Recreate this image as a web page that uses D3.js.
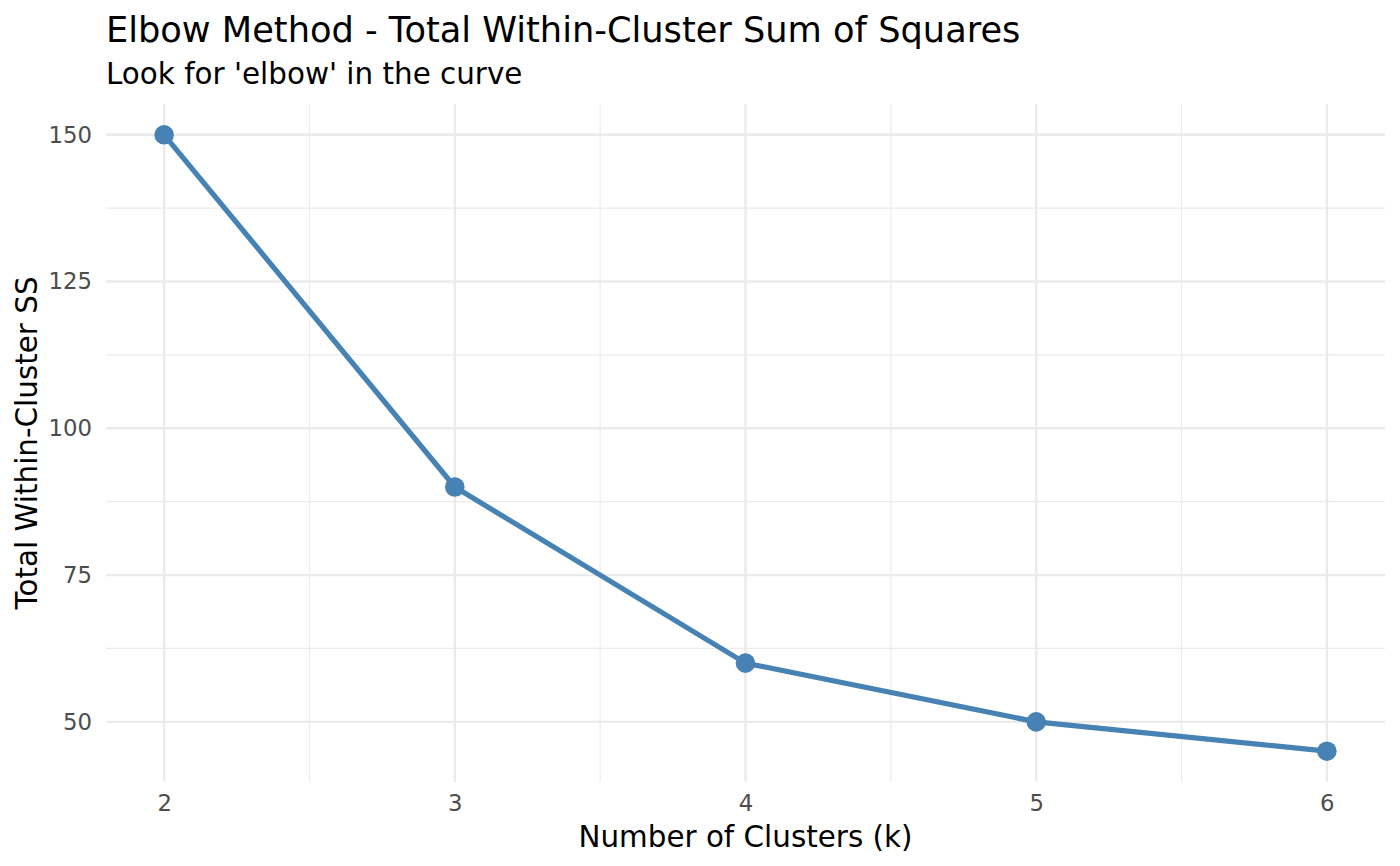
<!DOCTYPE html>
<html>
<head>
<meta charset="utf-8">
<script src="https://cdn.jsdelivr.net/npm/d3@7"></script>
<style>
  body { margin: 0; background: #fff; }
  svg { display: block; font-family: "DejaVu Sans", sans-serif; }
</style>
</head>
<body>
<svg id="chart" width="1400" height="866"></svg>
<script>
// data
var clusters = [2, 3, 4, 5, 6];
var wss = [150, 90, 60, 50, 45];
var xTicks = [2, 3, 4, 5, 6];
var xMinor = [2.5, 3.5, 4.5, 5.5];
var yTicks = [50, 75, 100, 125, 150];
var yMinor = [62.5, 87.5, 112.5, 137.5];

var svg = d3.select("#chart");
var margin = {left: 106, right: 15, top: 104, bottom: 84};
var width = 1400 - margin.left - margin.right,
    height = 866 - margin.top - margin.bottom;

// ggplot style 5% expansion
var xPad = (6 - 2) * 0.05, yPad = (150 - 45) * 0.05;
var x = d3.scaleLinear().domain([2 - xPad, 6 + xPad]).range([0, width]);
var y = d3.scaleLinear().domain([45 - yPad, 150 + yPad]).range([height, 0]);

var g = svg.append("g").attr("transform", "translate(" + margin.left + "," + margin.top + ")");

// minor grid
g.selectAll(".xminor").data(xMinor).enter().append("line")
  .attr("x1", d => x(d)).attr("x2", d => x(d)).attr("y1", 0).attr("y2", height)
  .attr("stroke", "#ebebeb").attr("stroke-width", 1.2);
g.selectAll(".yminor").data(yMinor).enter().append("line")
  .attr("y1", d => y(d)).attr("y2", d => y(d)).attr("x1", 0).attr("x2", width)
  .attr("stroke", "#ebebeb").attr("stroke-width", 1.2);

// major grid
g.selectAll(".xmajor").data(xTicks).enter().append("line")
  .attr("x1", d => x(d)).attr("x2", d => x(d)).attr("y1", 0).attr("y2", height)
  .attr("stroke", "#ebebeb").attr("stroke-width", 2.4);
g.selectAll(".ymajor").data(yTicks).enter().append("line")
  .attr("y1", d => y(d)).attr("y2", d => y(d)).attr("x1", 0).attr("x2", width)
  .attr("stroke", "#ebebeb").attr("stroke-width", 2.4);

// axes, just labels
var xAxis = g.append("g").attr("transform", "translate(0," + height + ")")
  .call(d3.axisBottom(x).tickValues(xTicks).tickSize(0).tickPadding(13).tickFormat(d3.format("d")));
var yAxis = g.append("g")
  .call(d3.axisLeft(y).tickValues(yTicks).tickSize(0).tickPadding(14).tickFormat(d3.format("d")));
[xAxis, yAxis].forEach(function(a) {
  a.select(".domain").remove();
  a.selectAll("text").attr("fill", "#4d4d4d").style("font-size", "22.8px")
    .style("font-family", "DejaVu Sans, sans-serif");
});

// line and points
var line = d3.line().x((d, i) => x(clusters[i])).y(d => y(d));
g.append("path").datum(wss)
  .attr("d", line).attr("fill", "none")
  .attr("stroke", "#4682b4").attr("stroke-width", 5.2).attr("stroke-linejoin", "round");
g.selectAll(".pt").data(wss).enter().append("circle")
  .attr("cx", (d, i) => x(clusters[i])).attr("cy", d => y(d)).attr("r", 9.8)
  .attr("fill", "#4682b4");

// titles
svg.append("text").attr("x", 106).attr("y", 42)
  .style("font-size", "35.2px").attr("fill", "#000")
  .text("Elbow Method - Total Within-Cluster Sum of Squares");
svg.append("text").attr("x", 106).attr("y", 84)
  .style("font-size", "29.4px").attr("fill", "#000")
  .text("Look for 'elbow' in the curve");
svg.append("text").attr("x", margin.left + width / 2).attr("y", 847)
  .attr("text-anchor", "middle").style("font-size", "29.4px").attr("fill", "#000")
  .text("Number of Clusters (k)");
svg.append("text")
  .attr("transform", "translate(37," + (margin.top + height / 2) + ") rotate(-90)")
  .attr("text-anchor", "middle").style("font-size", "29.4px").attr("fill", "#000")
  .text("Total Within-Cluster SS");
</script>
</body>
</html>
